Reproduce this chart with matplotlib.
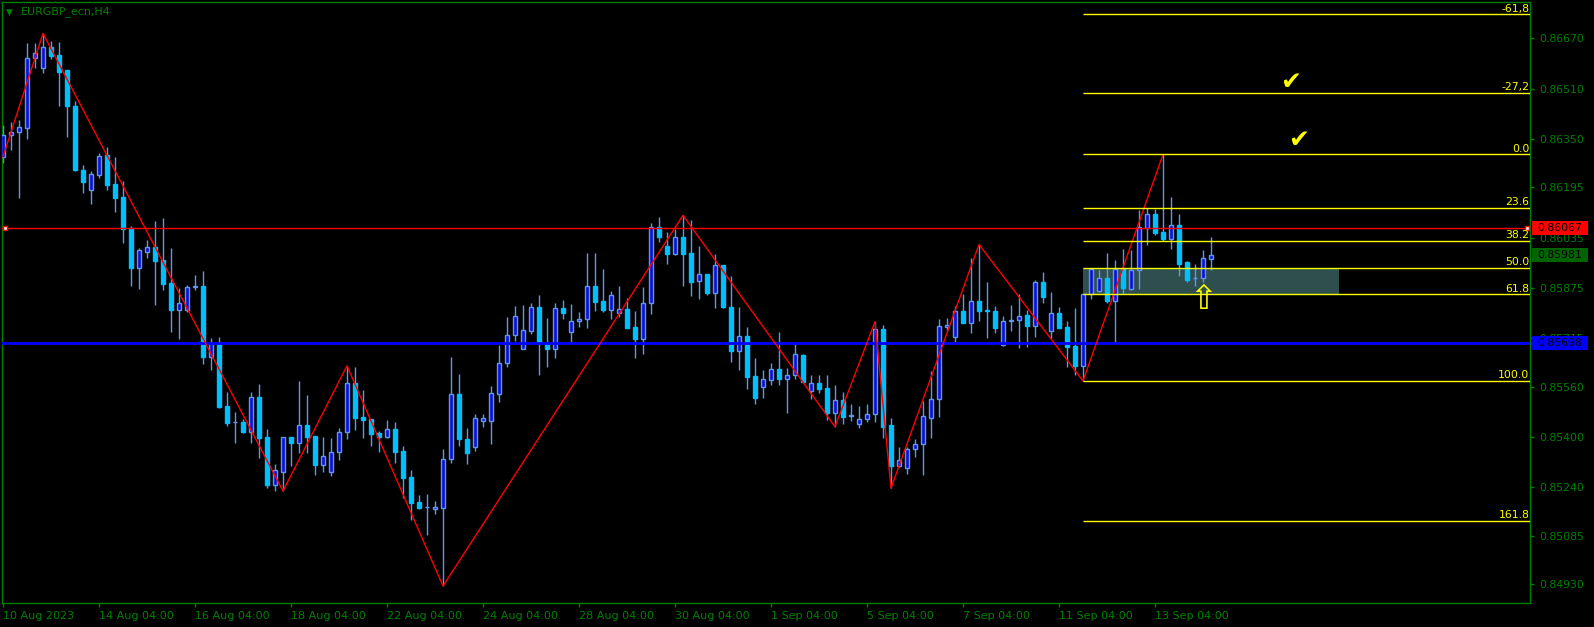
import matplotlib
matplotlib.use('Agg')
import matplotlib.pyplot as plt
import matplotlib.transforms as mtransforms
from matplotlib.patches import Rectangle

# ---------------- data ----------------
opens = [0.86292,0.86361,0.86371,0.86385,0.86609,0.86576,0.86641,0.86616,0.86568,0.86456,
         0.86252,0.86186,0.86235,0.86298,0.86206,0.86164,0.86065,0.85939,0.85990,0.86005,
         0.85963,0.85890,0.85804,0.85804,0.85877,0.85881,0.85655,0.85698,0.85497,0.85446,
         0.85446,0.85416,0.85526,0.85399,0.85247,0.85289,0.85398,0.85381,0.85437,0.85402,
         0.85311,0.85287,0.85352,0.85414,0.85570,0.85463,0.85457,0.85413,0.85400,0.85424,
         0.85355,0.85272,0.85192,0.85175,0.85171,0.85172,0.85328,0.85535,0.85392,0.85368,
         0.85451,0.85451,0.85535,0.85634,0.85723,0.85679,0.85738,0.85813,0.85698,0.85681,
         0.85809,0.85735,0.85770,0.85774,0.85880,0.85833,0.85805,0.85795,0.85806,0.85750,
         0.85713,0.85825,0.86068,0.86007,0.85983,0.86036,0.85986,0.85897,0.85918,0.85859,
         0.85946,0.85814,0.85674,0.85720,0.85593,0.85558,0.85580,0.85615,0.85585,0.85596,
         0.85660,0.85547,0.85571,0.85554,0.85475,0.85516,0.85467,0.85440,0.85456,0.85472,
         0.85743,0.85437,0.85308,0.85300,0.85360,0.85376,0.85461,0.85519,0.85751,0.85719,
         0.85800,0.85764,0.85832,0.85804,0.85800,0.85692,0.85768,0.85771,0.85787,0.85754,
         0.85893,0.85738,0.85794,0.85749,0.85689,0.85627,0.85855,0.85865,0.85905,0.85834,
         0.85934,0.85872,0.85931,0.86064,0.86109,0.86052,0.86031,0.86074,0.85956,0.85905,
         0.85905,0.85966]
highs = [0.86394,0.86403,0.86410,0.86656,0.86656,0.86686,0.86661,0.86658,0.86568,0.86470,
         0.86266,0.86247,0.86304,0.86324,0.86292,0.86215,0.86072,0.86001,0.86027,0.86088,
         0.86097,0.86002,0.85873,0.85884,0.85916,0.85928,0.85715,0.85718,0.85543,0.85479,
         0.85457,0.85543,0.85568,0.85425,0.85313,0.85398,0.85398,0.85578,0.85533,0.85402,
         0.85400,0.85396,0.85428,0.85626,0.85622,0.85549,0.85457,0.85418,0.85453,0.85447,
         0.85371,0.85294,0.85214,0.85219,0.85195,0.85360,0.85654,0.85600,0.85428,0.85473,
         0.85474,0.85562,0.85693,0.85782,0.85817,0.85820,0.85826,0.85851,0.85779,0.85825,
         0.85836,0.85822,0.85798,0.85986,0.85986,0.85935,0.85865,0.85881,0.85841,0.85801,
         0.85877,0.86082,0.86100,0.86053,0.86063,0.86106,0.86091,0.86008,0.85918,0.85982,
         0.85946,0.85912,0.85814,0.85749,0.85650,0.85614,0.85635,0.85733,0.85619,0.85701,
         0.85664,0.85597,0.85597,0.85597,0.85565,0.85542,0.85504,0.85498,0.85504,0.85767,
         0.85756,0.85459,0.85367,0.85367,0.85393,0.85514,0.85610,0.85775,0.85779,0.85817,
         0.85855,0.85970,0.86013,0.85893,0.85817,0.85785,0.85819,0.85855,0.85804,0.85900,
         0.85925,0.85861,0.85814,0.85769,0.85810,0.85854,0.85934,0.85932,0.85985,0.85963,
         0.85999,0.85995,0.86123,0.86128,0.86126,0.86300,0.86164,0.86110,0.85960,0.85951,
         0.85995,0.86037]
lows = [0.86273,0.86314,0.86161,0.86348,0.86575,0.86560,0.86604,0.86454,0.86355,0.86247,
        0.86178,0.86143,0.86226,0.86187,0.86117,0.86019,0.85881,0.85872,0.85971,0.85820,
        0.85869,0.85734,0.85712,0.85798,0.85868,0.85633,0.85614,0.85493,0.85435,0.85381,
        0.85411,0.85381,0.85333,0.85238,0.85228,0.85227,0.85308,0.85349,0.85349,0.85279,
        0.85288,0.85276,0.85327,0.85394,0.85423,0.85397,0.85372,0.85352,0.85397,0.85317,
        0.85206,0.85135,0.85171,0.85088,0.85155,0.84924,0.85317,0.85372,0.85314,0.85356,
        0.85432,0.85378,0.85512,0.85623,0.85705,0.85679,0.85728,0.85597,0.85622,0.85652,
        0.85776,0.85702,0.85751,0.85748,0.85801,0.85799,0.85775,0.85782,0.85748,0.85652,
        0.85665,0.85792,0.86021,0.85952,0.85980,0.85881,0.85849,0.85840,0.85852,0.85810,
        0.85811,0.85638,0.85614,0.85552,0.85505,0.85525,0.85566,0.85566,0.85477,0.85585,
        0.85575,0.85521,0.85540,0.85453,0.85432,0.85441,0.85451,0.85429,0.85448,0.85448,
        0.85397,0.85236,0.85305,0.85281,0.85337,0.85278,0.85397,0.85464,0.85738,0.85702,
        0.85764,0.85732,0.85770,0.85716,0.85732,0.85690,0.85738,0.85684,0.85687,0.85719,
        0.85827,0.85716,0.85748,0.85623,0.85598,0.85578,0.85840,0.85861,0.85827,0.85695,
        0.85854,0.85868,0.85872,0.86010,0.86044,0.86025,0.85999,0.85913,0.85894,0.85881,
        0.85894,0.85932]
closes = [0.86362,0.86370,0.86387,0.86609,0.86622,0.86641,0.86614,0.86563,0.86454,0.86250,
          0.86213,0.86237,0.86295,0.86203,0.86162,0.86063,0.85939,0.85995,0.86005,0.85961,
          0.85888,0.85804,0.85826,0.85877,0.85881,0.85655,0.85698,0.85496,0.85445,0.85447,
          0.85416,0.85526,0.85397,0.85247,0.85293,0.85398,0.85381,0.85437,0.85400,0.85311,
          0.85339,0.85351,0.85414,0.85570,0.85461,0.85454,0.85410,0.85400,0.85424,0.85352,
          0.85270,0.85190,0.85174,0.85176,0.85175,0.85328,0.85535,0.85392,0.85349,0.85459,
          0.85460,0.85539,0.85634,0.85723,0.85784,0.85739,0.85813,0.85698,0.85681,0.85809,
          0.85795,0.85768,0.85774,0.85880,0.85830,0.85805,0.85851,0.85806,0.85748,0.85713,
          0.85825,0.86068,0.86038,0.85983,0.86036,0.85983,0.85894,0.85918,0.85859,0.85946,
          0.85814,0.85674,0.85720,0.85591,0.85525,0.85583,0.85615,0.85585,0.85596,0.85664,
          0.85576,0.85571,0.85553,0.85475,0.85516,0.85464,0.85468,0.85456,0.85472,0.85743,
          0.85432,0.85308,0.85325,0.85360,0.85376,0.85465,0.85519,0.85752,0.85755,0.85800,
          0.85764,0.85832,0.85802,0.85800,0.85748,0.85768,0.85771,0.85785,0.85754,0.85893,
          0.85846,0.85794,0.85748,0.85687,0.85627,0.85854,0.85934,0.85905,0.85833,0.85934,
          0.85873,0.85931,0.86068,0.86109,0.86050,0.86031,0.86074,0.85952,0.85899,0.85906,
          0.85969,0.85981]

zigzag_idx = [0, 5, 35, 43, 55, 85, 104, 109, 111, 122, 135, 145]
zigzag_px = [0.86292, 0.86686, 0.85227, 0.85626, 0.84924, 0.86106, 0.85432, 0.85767,
             0.85236, 0.86013, 0.85578, 0.86300]

xtick_idx = [0, 12, 24, 36, 48, 60, 72, 84, 96, 108, 120, 132, 144]
xtick_labels = ["10 Aug 2023", "14 Aug 04:00", "16 Aug 04:00", "18 Aug 04:00",
                "22 Aug 04:00", "24 Aug 04:00", "28 Aug 04:00", "30 Aug 04:00",
                "1 Sep 04:00", "5 Sep 04:00", "7 Sep 04:00", "11 Sep 04:00", "13 Sep 04:00"]
ytick_vals = [0.86670, 0.86510, 0.86350, 0.86195, 0.86035, 0.85875, 0.85715,
              0.85560, 0.85400, 0.85240, 0.85085, 0.84930]

fib_high = 0.86300
fib_low = 0.85578
fib_start = 135
fib_levels = [-61.8, -27.2, 0.0, 23.6, 38.2, 50.0, 61.8, 100.0, 161.8]
fib_labels = ["-61,8", "-27,2", "0.0", "23.6", "38.2", "50.0", "61.8", "100.0", "161.8"]
zone_end = 167

red_level = 0.86067
blue_level = 0.85698
bid_price = 0.85981

# ---------------- figure ----------------
W, H = 1594, 627
GREEN = '#008000'
fig = plt.figure(figsize=(W / 100, H / 100), dpi=100, facecolor='black')
ax = fig.add_axes([2 / W, (H - 603) / H, 1528 / W, 601 / H], facecolor='black')
ymin, ymax = 0.84870, 0.86786
ax.set_ylim(ymin, ymax)
ax.set_xlim(-0.125, 190.875)
px = (ymax - ymin) / 601.0

n = len(opens)
xs = list(range(n))
bull_x = [i for i in xs if closes[i] >= opens[i]]
bear_x = [i for i in xs if closes[i] < opens[i]]

# fib zone
fib_price = [fib_high - lv / 100.0 * (fib_high - fib_low) for lv in fib_levels]
p50 = fib_price[fib_levels.index(50.0)]
p618 = fib_price[fib_levels.index(61.8)]
ax.add_patch(Rectangle((fib_start, p618), zone_end - fib_start, p50 - p618,
                       facecolor='#2F4F4F', edgecolor='none', zorder=1))

# wicks
ax.vlines(xs, lows, highs, color='#6495ED', lw=1, zorder=2)
# bodies
ax.bar(bull_x, [max(closes[i] - opens[i], 0.2 * px) for i in bull_x],
       bottom=[opens[i] for i in bull_x], width=0.5,
       facecolor='#0A10DC', edgecolor='#6495ED', lw=1, zorder=3)
ax.bar(bear_x, [opens[i] - closes[i] for i in bear_x],
       bottom=[closes[i] for i in bear_x], width=0.5,
       facecolor='#00BFFF', edgecolor='#00BFFF', lw=1, zorder=3)

# horizontal lines
ax.axhline(red_level, color='#FF0000', lw=1, zorder=4)
ax.plot([0.3, 190.5], [red_level, red_level], 's', ms=3.5, mfc='white', mec='#FF0000',
        mew=1, zorder=6, clip_on=False)
ax.axhline(blue_level, color='#0000FF', lw=2, zorder=4)

# zigzag
ax.plot(zigzag_idx, zigzag_px, color='#FF0000', lw=1, zorder=5)

# fib lines and labels
xr = ax.get_xlim()[1]
trans = mtransforms.blended_transform_factory(ax.transAxes, ax.transData)
for lv, lab, p in zip(fib_levels, fib_labels, fib_price):
    ax.hlines(p, fib_start, xr, color='#FFFF00', lw=1, zorder=5)
    ax.text(0.9995, p + 0.6 * px, lab, transform=trans, ha='right', va='bottom',
            color='#FFFF00', fontsize=7.8, zorder=7, clip_on=False)

# annotations
ax.text(161, 0.86531, '✔', color='#FFFF00', fontsize=18, ha='center', va='center', zorder=8)
ax.text(162, 0.86346, '✔', color='#FFFF00', fontsize=18, ha='center', va='center', zorder=8)
ax.text(150, 0.85838, '⇧', color='#FFFF00', fontsize=24, ha='center', va='center', zorder=8)

# right price boxes
for price, fc in [(red_level, '#FF0000'), (bid_price, '#006400'), (blue_level, '#0000FF')]:
    ax.add_patch(Rectangle((1.0013, price - 7 * px), 0.0367, 14 * px, transform=trans,
                           facecolor=fc, edgecolor='none', zorder=9, clip_on=False))
    ax.text(1.0050, price, '%.5f' % price, transform=trans, ha='left', va='center',
            color='black', fontsize=7.8, zorder=10, clip_on=False)

# axes styling
for s in ax.spines.values():
    s.set_color(GREEN)
    s.set_linewidth(1)
ax.yaxis.tick_right()
ax.set_yticks(ytick_vals)
ax.set_yticklabels(['%.5f' % v for v in ytick_vals])
ax.tick_params(axis='y', colors=GREEN, labelcolor=GREEN, length=3, width=1,
               labelsize=7.8, pad=3.5, direction='out')
ax.set_xticks(xtick_idx)
ax.set_xticklabels(xtick_labels)
ax.tick_params(axis='x', colors=GREEN, labelcolor=GREEN, length=3, width=1,
               labelsize=8, pad=3, direction='out')
for lbl in ax.get_xticklabels():
    lbl.set_horizontalalignment('left')

# title
fig.text(6 / W, 1 - 12.5 / H, '▼', color=GREEN, fontsize=6.5, ha='left', va='center')
fig.text(21 / W, 1 - 12 / H, 'EURGBP_ecn,H4', color=GREEN, fontsize=7.9,
         ha='left', va='center')

fig.savefig('out.png', dpi=100, facecolor='black')
